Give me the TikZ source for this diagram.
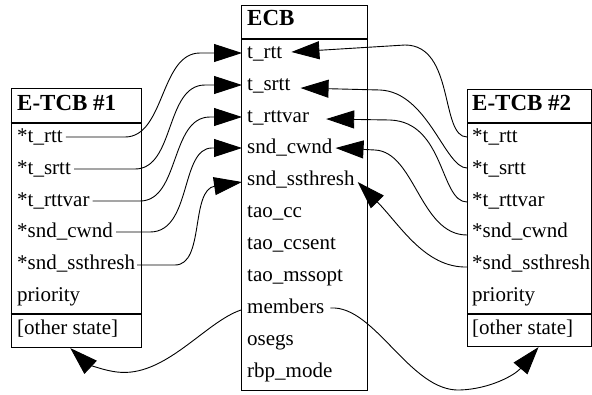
\documentclass[tikz,border=0pt]{standalone}
\usepackage{fontspec}
\setmainfont{Liberation Serif}
\usetikzlibrary{arrows.meta}
\begin{document}
\begin{tikzpicture}[x=1pt,y=-1pt,
  box/.style={draw,line width=1.1pt,inner sep=0pt,anchor=north west},
  rule/.style={line width=1.1pt},
  row/.style={anchor=base west,inner sep=0pt,font=\fontsize{21}{24}\selectfont},
  head/.style={anchor=base west,inner sep=0pt,font=\fontsize{23}{26}\selectfont\bfseries},
  link/.style={line width=0.9pt},
  arr/.style={link,-{Triangle[length=28pt,width=18pt]}}]
\useasboundingbox (0,0) rectangle (592,394);
% boxes
\node[box,minimum width=130.5pt,minimum height=259pt] (lbox) at (10.5,88) {};
\node[box,minimum width=126pt,minimum height=385pt] (ecb) at (241,5) {};
\node[box,minimum width=124pt,minimum height=257pt] (rbox) at (467,89) {};
\draw[rule] (10.5,123) -- (141,123);
\draw[rule] (10.5,314) -- (141,314);
\draw[rule] (241,39) -- (367,39);
\draw[rule] (467,123) -- (591,123);
\draw[rule] (467,314) -- (591,314);
% left box text
\node[head] (lh) at (17,110) {E-TCB \#1};
\node[row] (l1) at (17,142) {*t\_rtt};
\node[row] (l2) at (17,174) {*t\_srtt};
\node[row] (l3) at (17,206) {*t\_rttvar};
\node[row] (l4) at (17,237) {*snd\_cwnd};
\node[row] (l5) at (17,269) {*snd\_ssthresh};
\node[row] (l6) at (17,301) {priority};
\node[row] (l7) at (17,334) {[other state]};
% ECB text
\node[head] (eh) at (247,25) {ECB};
\node[row] (e1) at (247,58) {t\_rtt};
\node[row] (e2) at (247,90) {t\_srtt};
\node[row] (e3) at (247,122) {t\_rttvar};
\node[row] (e4) at (247,153) {snd\_cwnd};
\node[row] (e5) at (247,185) {snd\_ssthresh};
\node[row] (e6) at (247,217) {tao\_cc};
\node[row] (e7) at (247,249) {tao\_ccsent};
\node[row] (e8) at (247,281) {tao\_mssopt};
\node[row] (em) at (247,313) {members};
\node[row] (e10) at (247,345) {osegs};
\node[row] (e11) at (247,377) {rbp\_mode};
% right box text
\node[head] (rh) at (472,110) {E-TCB \#2};
\node[row] (r1) at (472,142) {*t\_rtt};
\node[row] (r2) at (472,174) {*t\_srtt};
\node[row] (r3) at (472,206) {*t\_rttvar};
\node[row] (r4) at (472,237) {*snd\_cwnd};
\node[row] (r5) at (472,269) {*snd\_ssthresh};
\node[row] (r6) at (472,301) {priority};
\node[row] (r7) at (472,334) {[other state]};
% left connectors
\draw[arr] ([xshift=3pt,yshift=5pt]l1.base east) -- (125,137) .. controls (165,137) and (160,53) .. (200,53) -- ([xshift=-5pt,yshift=5pt]e1.base west);
\draw[arr] ([xshift=3pt,yshift=5pt]l2.base east) -- (135,169) .. controls (175,169) and (165,85) .. (205,85) -- ([xshift=-5pt,yshift=5pt]e2.base west);
\draw[arr] ([xshift=3pt,yshift=5pt]l3.base east) -- (140,201) .. controls (180,201) and (170,117) .. (210,117) -- ([xshift=-5pt,yshift=5pt]e3.base west);
\draw[arr] ([xshift=3pt,yshift=5pt]l4.base east) -- (150,232) .. controls (192,232) and (180,148) .. (212,148) -- ([xshift=-5pt,yshift=5pt]e4.base west);
\draw[arr] ([xshift=2pt,yshift=4pt]l5.base east) -- (175,265) .. controls (205,265) and (190,190) .. (215,186) -- ([xshift=-5pt,yshift=3pt]e5.base west);
% right connectors
\draw[arr] ([xshift=-5pt,yshift=5pt]r1.base west) .. controls (440,137) and (455,45) .. (405,45) -- ([xshift=9pt,yshift=6pt]e1.base east);
\draw[arr] ([xshift=-5pt,yshift=6pt]r2.base west) .. controls (445,168) and (428,92) .. (380,90) -- ([xshift=10pt,yshift=2pt]e2.base east);
\draw[arr] ([xshift=-5pt,yshift=4pt]r3.base west) .. controls (440,202) and (445,122) .. (390,120) -- ([xshift=17pt,yshift=3pt]e3.base east);
\draw[arr] ([xshift=-5pt,yshift=2pt]r4.base west) .. controls (420,235) and (415,152) .. (375,150) -- ([xshift=3pt,yshift=5pt]e4.base east);
\draw[arr] ([xshift=-5pt,yshift=2pt]r5.base west) .. controls (425,268) and (400,225) .. ([xshift=3pt,yshift=3pt]e5.base east);
% members connectors
\draw[arr] ([xshift=-6pt,yshift=3pt]em.base west) .. controls (205,322) and (165,378) .. (117,372) .. controls (100,370) and (85,362) .. ([xshift=-6pt]lbox.south);
\draw[arr] ([xshift=6pt,yshift=5pt]em.base east) .. controls (375,305) and (410,392) .. (460,390) .. controls (490,389) and (515,375) .. ([xshift=9pt]rbox.south);
\end{tikzpicture}
\end{document}
